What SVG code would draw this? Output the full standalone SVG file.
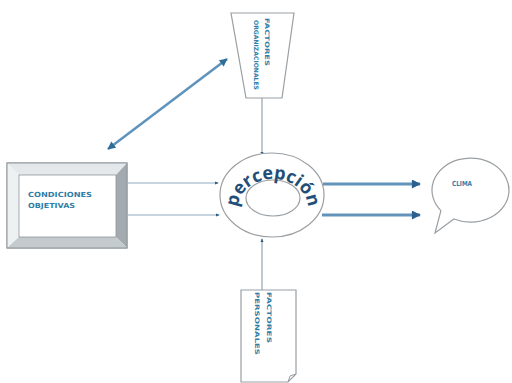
<svg xmlns="http://www.w3.org/2000/svg" width="512" height="383" viewBox="0 0 512 383">
  <style>
    .shape { fill: #ffffff; stroke: #9a9fa3; stroke-width: 1.2; }
    .lbl { font-family: "DejaVu Sans", sans-serif; font-weight: bold; fill: #2f7ea6; }
    .thin { stroke: #b3c7d6; stroke-width: 1.6; fill: none; }
    .vert { stroke: #8d9ba6; stroke-width: 1.1; fill: none; }
    .thick { stroke: #6393b9; stroke-width: 3; fill: none; }
    .diag { stroke: #5f93bb; stroke-width: 2.5; fill: none; }
  </style>
  <defs>
    <marker id="dot" viewBox="0 0 10 10" refX="8" refY="5" markerWidth="4" markerHeight="4" orient="auto" markerUnits="userSpaceOnUse">
      <path d="M0,1 L10,5 L0,9 Z" fill="#2d5f86"/>
    </marker>
    <marker id="head" viewBox="0 0 10 10" refX="9" refY="5" markerWidth="10" markerHeight="9" orient="auto" markerUnits="userSpaceOnUse">
      <path d="M0,0 L10,5 L0,10 Z" fill="#2a5f8f"/>
    </marker>
    <marker id="dhead" viewBox="0 0 10 10" refX="9" refY="5" markerWidth="10" markerHeight="8" orient="auto-start-reverse" markerUnits="userSpaceOnUse">
      <path d="M0,0 L10,5 L0,10 Z" fill="#2f6d98"/>
    </marker>
    <path id="arcText" d="M 238,208 A 35 29 0 1 1 308,208"/>
  </defs>

  <rect width="512" height="383" fill="#ffffff"/>

  <!-- connectors -->
  <g id="connectors">
    <line class="diag" x1="108" y1="149" x2="227" y2="59" marker-start="url(#dhead)" marker-end="url(#dhead)"/>
    <line class="vert" x1="262" y1="98" x2="262" y2="155" marker-end="url(#dot)"/>
    <line class="vert" x1="262" y1="290" x2="262" y2="239" marker-end="url(#dot)"/>
    <line class="thin" x1="128" y1="183" x2="218" y2="183" marker-end="url(#dot)"/>
    <line class="thin" x1="128" y1="215" x2="219" y2="215" marker-end="url(#dot)"/>
    <line class="thick" x1="323" y1="184" x2="420" y2="184" marker-end="url(#head)"/>
    <line class="thick" x1="322" y1="215" x2="420" y2="215" marker-end="url(#head)"/>
  </g>

  <!-- bevelled box -->
  <g id="condiciones">
    <rect x="7" y="163" width="120" height="85" fill="#ffffff" stroke="#8f969b" stroke-width="1"/>
    <polygon points="7,163 127,163 116,175 19,175" fill="#e4e8ea"/>
    <polygon points="7,163 19,175 19,237 7,248" fill="#eef1f2"/>
    <polygon points="127,163 127,248 116,237 116,175" fill="#a3abb1"/>
    <polygon points="7,248 19,237 116,237 127,248" fill="#c4cacd"/>
    <rect x="7" y="163" width="120" height="85" fill="none" stroke="#8f969b" stroke-width="1"/>
    <rect x="19" y="175" width="97" height="62" fill="#ffffff" stroke="#8f969b" stroke-width="0.8"/>
    <text class="lbl" x="28" y="197" font-size="7" textLength="64" lengthAdjust="spacingAndGlyphs">CONDICIONES</text>
    <text class="lbl" x="28" y="208" font-size="7" textLength="47" lengthAdjust="spacingAndGlyphs">OBJETIVAS</text>
  </g>

  <!-- organisational factors -->
  <g id="organizacionales">
    <polygon class="shape" points="231,13 294,13 282,98 246,98"/>
    <text class="lbl" font-size="6" transform="translate(265,18) rotate(90)" textLength="48" lengthAdjust="spacingAndGlyphs">FACTORES</text>
    <text class="lbl" font-size="6" transform="translate(254,20) rotate(90)" textLength="70" lengthAdjust="spacingAndGlyphs">ORGANIZACIONALES</text>
  </g>

  <!-- perception ring -->
  <g id="percepcion">
    <ellipse class="shape" cx="272" cy="195" rx="52" ry="42"/>
    <ellipse class="shape" cx="273" cy="198" rx="27" ry="18"/>
    <text font-family="'Open Sans', 'DejaVu Sans', sans-serif" font-weight="bold" font-size="18" fill="#1f4f78" text-anchor="middle">
      <textPath href="#arcText" startOffset="50%">percepción</textPath>
    </text>
  </g>

  <!-- climate bubble -->
  <g id="clima">
    <path class="shape" d="M 453.9,219 A 38.5 32 0 1 0 440.9,210.6 L 435,233 Z"/>
    <text class="lbl" x="452" y="186" font-size="7" textLength="20" lengthAdjust="spacingAndGlyphs" fill="#3a72a0">CLIMA</text>
  </g>

  <!-- personal factors -->
  <g id="personales">
    <path class="shape" d="M241,290 H296 V374 L288,382 H241 Z"/>
    <path d="M288,382 L290,376 L296,374" fill="none" stroke="#9a9fa3" stroke-width="1"/>
    <text class="lbl" font-size="6" transform="translate(267,292) rotate(90)" textLength="51" lengthAdjust="spacingAndGlyphs">FACTORES</text>
    <text class="lbl" font-size="6" transform="translate(255,292) rotate(90)" textLength="63" lengthAdjust="spacingAndGlyphs">PERSONALES</text>
  </g>
</svg>
